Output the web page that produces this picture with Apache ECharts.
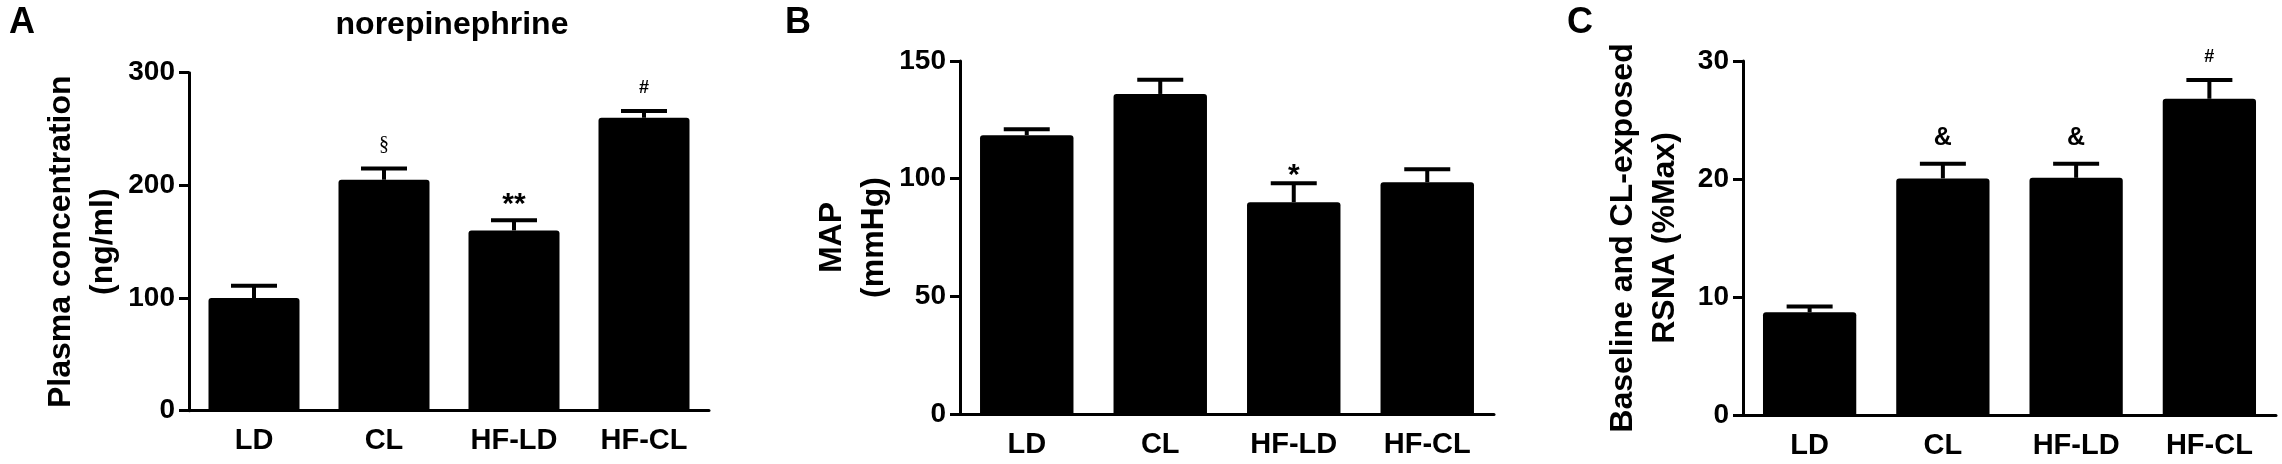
<!DOCTYPE html>
<html>
<head>
<meta charset="utf-8">
<script src="https://cdn.jsdelivr.net/npm/echarts@6/dist/echarts.min.js"></script>
<style>
html,body{margin:0;padding:0;background:#fff;}
#chart{width:2282px;height:464px;}
</style>
</head>
<body>
<div id="chart"></div>
<script>
// ---- data ----
const categories = ['LD', 'CL', 'HF-LD', 'HF-CL'];

const norepinephrine = [100, 205, 160, 260];
const norepinephrineSEM = [11, 10, 9, 6];
const norepinephrineMarks = ['', '§', '**', '#'];
const norepinephrineTicks = [0, 100, 200, 300];

const mapValues = [118.5, 136, 90, 98.5];
const mapSEM = [2.5, 6, 8, 5.5];
const mapMarks = ['', '', '*', ''];
const mapTicks = [0, 50, 100, 150];

const rsnaValues = [8.7, 20.05, 20.1, 26.8];
const rsnaSEM = [0.5, 1.25, 1.2, 1.6];
const rsnaMarks = ['', '&', '&', '#'];
const rsnaTicks = [0, 10, 20, 30];

const panelLetters = ['A', 'B', 'C'];
const chartTitle = 'norepinephrine';
const yNames = ['Plasma concentration\n(ng/ml)', 'MAP\n(mmHg)', 'Baseline and CL-exposed\nRSNA (%Max)'];

// ---- layout / style ----
const FONT = 'Arial, "Liberation Sans", Helvetica, sans-serif';
const grids = [
  {left: 189, top: 72.7, width: 520, height: 338},
  {left: 960, top: 61, width: 534, height: 353},
  {left: 1743, top: 61, width: 533, height: 354}
];
const nameGaps = [62, 60, 57];
const letterX = [4, 780, 1562];

const markStyle = {
  '§': {fontSize: 20, fontFamily: '"Liberation Serif", "DejaVu Serif", serif', fontWeight: 'normal', dy: -24},
  '**': {fontSize: 30, fontFamily: FONT, fontWeight: 'bold', dy: -16},
  '*': {fontSize: 30, fontFamily: FONT, fontWeight: 'bold', dy: -8},
  '#': {fontSize: 18, fontFamily: FONT, fontWeight: 'bold', dy: -23},
  '&': {fontSize: 25, fontFamily: FONT, fontWeight: 'bold', dy: -26}
};

const panels = [
  {values: norepinephrine, sem: norepinephrineSEM, marks: norepinephrineMarks, ticks: norepinephrineTicks},
  {values: mapValues, sem: mapSEM, marks: mapMarks, ticks: mapTicks},
  {values: rsnaValues, sem: rsnaSEM, marks: rsnaMarks, ticks: rsnaTicks}
];

function makeErrRenderer(marks) {
  return function (params, api) {
    const i = api.value(0);
    const v = api.value(1);
    const e = api.value(2);
    const base = api.coord([i, v]);
    const top = api.coord([i, v + e]);
    const half = 23;
    const children = [
      {type: 'line', shape: {x1: base[0], y1: base[1], x2: top[0], y2: top[1]},
       style: {stroke: '#000', lineWidth: 4}},
      {type: 'line', shape: {x1: top[0] - half, y1: top[1], x2: top[0] + half, y2: top[1]},
       style: {stroke: '#000', lineWidth: 4}}
    ];
    const m = marks[params.dataIndex];
    if (m) {
      const s = markStyle[m];
      children.push({
        type: 'text',
        style: {
          x: top[0], y: top[1] + s.dy, text: m,
          fill: '#000', font: s.fontWeight + ' ' + s.fontSize + 'px ' + s.fontFamily,
          textAlign: 'center', textVerticalAlign: 'middle'
        }
      });
    }
    return {type: 'group', children: children};
  };
}

const option = {
  backgroundColor: '#fff',
  animation: false,
  title: [
    {text: chartTitle, left: 447, top: 4, textAlign: 'center',
     textStyle: {fontFamily: FONT, fontWeight: 'bold', fontSize: 32, color: '#000'}}
  ].concat(panelLetters.map((t, k) => ({
    text: t, left: letterX[k], top: 0,
    textStyle: {fontFamily: FONT, fontWeight: 'bold', fontSize: 36, color: '#000'}
  }))),
  grid: grids,
  xAxis: grids.map((g, k) => ({
    type: 'category', gridIndex: k, data: categories,
    axisLine: {lineStyle: {color: '#000', width: 3}},
    axisTick: {alignWithLabel: true, length: 10, lineStyle: {color: '#000', width: 3}},
    axisLabel: {color: '#000', fontFamily: FONT, fontWeight: 'bold', fontSize: 29, margin: 16}
  })),
  yAxis: grids.map((g, k) => {
    const t = panels[k].ticks;
    return {
      type: 'value', gridIndex: k, min: t[0], max: t[t.length - 1], interval: t[1] - t[0],
      name: yNames[k], nameLocation: 'middle', nameGap: nameGaps[k], nameRotate: 90,
      nameTextStyle: {color: '#000', fontFamily: FONT, fontWeight: 'bold', fontSize: 32, lineHeight: 42, align: 'center'},
      axisLine: {show: true, lineStyle: {color: '#000', width: 3}},
      axisTick: {show: true, length: 10, lineStyle: {color: '#000', width: 3}},
      axisLabel: {color: '#000', fontFamily: FONT, fontWeight: 'bold', fontSize: 28, margin: 14},
      splitLine: {show: false}
    };
  }),
  series: [].concat(...panels.map((p, k) => [
    {
      type: 'bar', xAxisIndex: k, yAxisIndex: k, data: p.values,
      barCategoryGap: '30%',
      itemStyle: {color: '#000', borderRadius: [3, 3, 0, 0]},
      z: 2
    },
    {
      type: 'custom', xAxisIndex: k, yAxisIndex: k,
      data: p.values.map((v, i) => [i, v, p.sem[i]]),
      renderItem: makeErrRenderer(p.marks),
      z: 3
    }
  ]))
};

const chart = echarts.init(document.getElementById('chart'), null, {renderer: 'canvas'});
chart.setOption(option);
</script>
</body>
</html>
